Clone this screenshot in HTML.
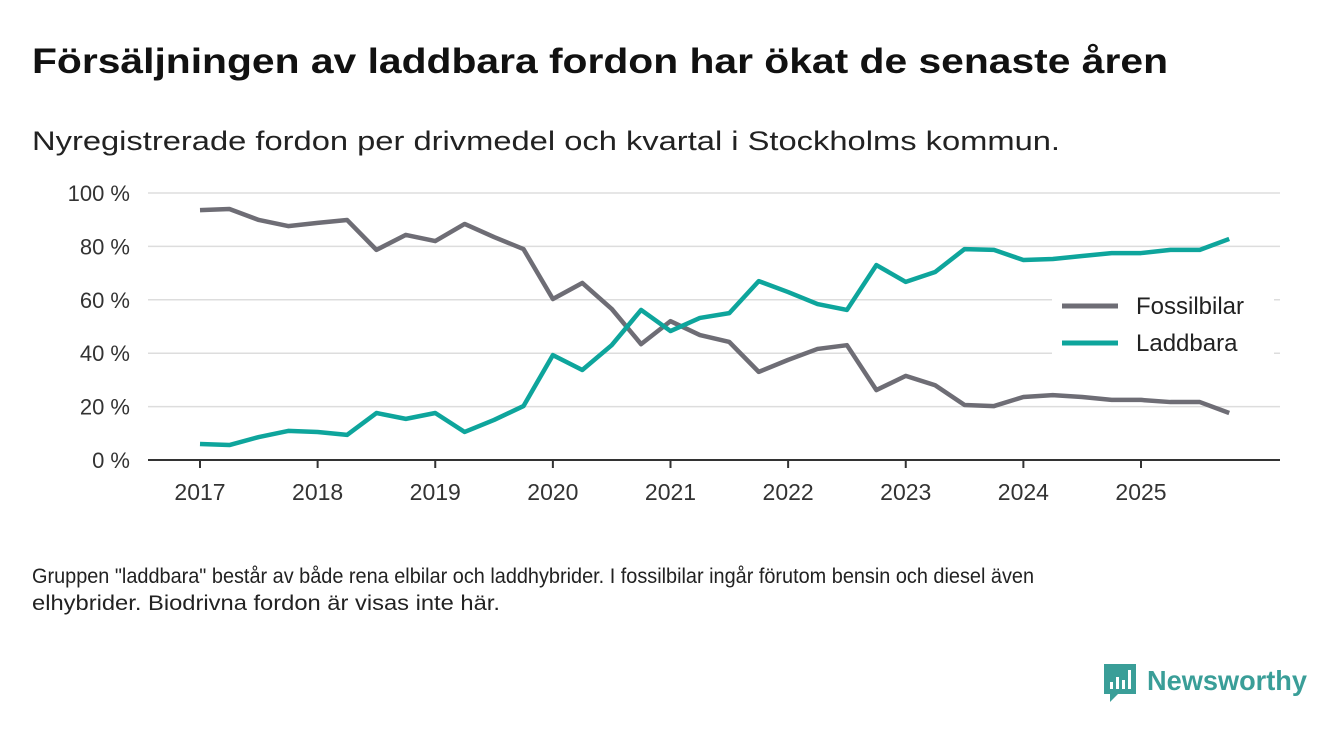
<!DOCTYPE html>
<html><head><meta charset="utf-8">
<style>
html,body{margin:0;padding:0;background:#fff;width:1340px;height:733px;overflow:hidden}
svg{display:block;font-family:"Liberation Sans","DejaVu Sans",sans-serif}
</style></head>
<body>
<svg id="chart" width="1340" height="733" viewBox="0 0 1340 733">
<text x="32" y="73" font-size="35" font-weight="bold" fill="#111" textLength="1136" lengthAdjust="spacingAndGlyphs">Försäljningen av laddbara fordon har ökat de senaste åren</text>
<text x="32" y="150" font-size="27" fill="#222" textLength="1028" lengthAdjust="spacingAndGlyphs">Nyregistrerade fordon per drivmedel och kvartal i Stockholms kommun.</text>
<g id="grid"></g><g id="axes"></g><g id="lines"></g>
<g>
<rect x="1052" y="284" width="222" height="76" fill="#fff"/>
<line x1="1062" y1="306" x2="1118" y2="306" stroke="#6e6d75" stroke-width="5"/>
<text x="1136" y="314" font-size="24" fill="#222">Fossilbilar</text>
<line x1="1062" y1="343" x2="1118" y2="343" stroke="#0ea59c" stroke-width="5"/>
<text x="1136" y="351" font-size="24" fill="#222">Laddbara</text>
</g>
<text font-size="21" fill="#222"><tspan x="32" y="583" textLength="1002" lengthAdjust="spacingAndGlyphs">Gruppen "laddbara" består av både rena elbilar och laddhybrider. I fossilbilar ingår förutom bensin och diesel även</tspan><tspan x="32" y="610" textLength="468" lengthAdjust="spacingAndGlyphs">elhybrider. Biodrivna fordon är visas inte här.</tspan></text>
<g>
<path d="M1104 664h32v30h-18l-8 8v-8h-6z" fill="#3a9e98"/>
<rect x="1110" y="682" width="3" height="7" fill="#fff"/><rect x="1116" y="677" width="3" height="12" fill="#fff"/><rect x="1122" y="680" width="3" height="9" fill="#fff"/><rect x="1128" y="670" width="3" height="19" fill="#fff"/>
<text x="1147" y="690" font-size="28" font-weight="bold" fill="#3a9e98" textLength="160" lengthAdjust="spacingAndGlyphs">Newsworthy</text>
</g>
</svg>
<script>
const years=["2017","2018","2019","2020","2021","2022","2023","2024","2025"];
const yTicks=[0,20,40,60,80,100];
const fossil=[93.6,94,89.9,87.6,88.8,89.9,78.7,84.3,82,88.4,83.5,79,60.3,66.3,56.6,43.4,52,46.8,44.2,33,37.5,41.6,43,26.2,31.5,28,20.6,20.2,23.6,24.3,23.6,22.5,22.5,21.7,21.7,17.6];
const laddbara=[6,5.6,8.6,10.9,10.5,9.4,17.6,15.4,17.6,10.5,15,20.2,39.3,33.7,43,56.2,48.3,53.2,55,67,62.9,58.4,56.2,73,66.7,70.4,79,78.7,74.9,75.3,76.4,77.5,77.5,78.7,78.7,82.8];
const NS="http://www.w3.org/2000/svg";
const x=i=>200+i*(1141-200)/32;
const y=v=>460-v*2.67;
function mk(t,a,p){const e=document.createElementNS(NS,t);for(const k in a)e.setAttribute(k,a[k]);p.appendChild(e);return e;}
const grid=document.getElementById('grid'),axes=document.getElementById('axes'),lines=document.getElementById('lines');
yTicks.forEach(v=>{
  if(v>0){const g=mk('line',{x1:148,x2:1280,y1:y(v),y2:y(v),stroke:'#ddd','stroke-width':1.5},grid);
  
  }
  const t=mk('text',{x:130,y:y(v)+8,'font-size':22,fill:'#333','text-anchor':'end'},axes);
  t.textContent=v+' %';
  
  
});
const ax=mk('line',{x1:148,x2:1280,y1:460,y2:460,stroke:'#333','stroke-width':2},axes);


years.forEach((yr,i)=>{
  const xx=x(i*4);
  const tk=mk('line',{x1:xx,x2:xx,y1:460,y2:468,stroke:'#333','stroke-width':2},axes);
  
  
  const t=mk('text',{x:xx,y:500,'font-size':23,fill:'#333','text-anchor':'middle'},axes);
  t.textContent=yr;
  
  
});
function series(d,c,n){
  const p=mk('polyline',{points:d.map((v,i)=>x(i)+','+y(v)).join(' '),fill:'none',stroke:c,'stroke-width':4.5,'stroke-linejoin':'round'},lines);
  
  
}
series(fossil,'#6e6d75','line-fossilbilar');
series(laddbara,'#0ea59c','line-laddbara');
</script>
</body></html>
